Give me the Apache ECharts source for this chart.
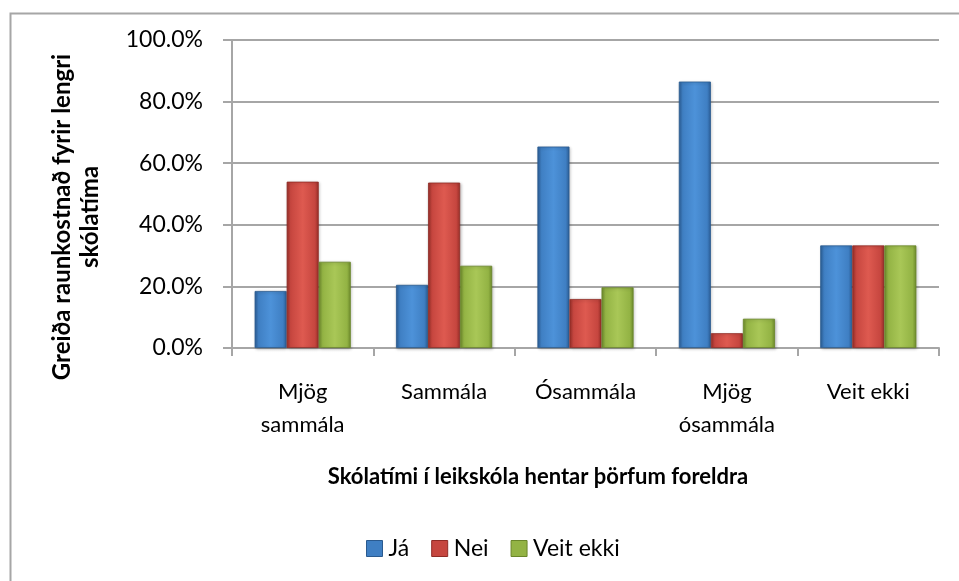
<!DOCTYPE html>
<html>
<head>
<meta charset="utf-8">
<script src="https://cdn.jsdelivr.net/npm/echarts@6/dist/echarts.min.js"></script>
<style>
  html, body { margin: 0; padding: 0; background: #fff; }
  #chart { width: 959px; height: 581px; }
</style>
</head>
<body>
<div id="chart"></div>
<script>
// Answer categories (x axis)
const categories = ['Mjög\nsammála', 'Sammála', 'Ósammála', 'Mjög\nósammála', 'Veit ekki'];
// Share of answers per category, in percent
const jaValues = [18.5, 20.5, 65.4, 86.5, 33.3];
const neiValues = [54.0, 53.7, 15.9, 4.8, 33.3];
const veitEkkiValues = [28.0, 26.7, 19.7, 9.5, 33.3];
const seriesNames = ['Já', 'Nei', 'Veit ekki'];
// Value axis ticks
const yTicks = [0, 20, 40, 60, 80, 100];

const FONT = 'Lato, "Open Sans", sans-serif';

function bevel(dark, mid, light) {
  return new echarts.graphic.LinearGradient(0, 0, 1, 0, [
    { offset: 0, color: dark },
    { offset: 0.12, color: mid },
    { offset: 0.5, color: light },
    { offset: 0.88, color: mid },
    { offset: 1, color: dark }
  ]);
}

const palette = [
  { dark: '#2c5f98', mid: '#3f7fc3', light: '#4d92d9', border: '#2a5a8f' },
  { dark: '#9a2f29', mid: '#c6463f', light: '#de5a50', border: '#8f2b25' },
  { dark: '#6f8c2c', mid: '#93b344', light: '#a9c757', border: '#6a862a' }
];

const dataSets = [jaValues, neiValues, veitEkkiValues];

const chart = echarts.init(document.getElementById('chart'), null, { renderer: 'canvas' });

chart.setOption({
  animation: false,
  backgroundColor: '#ffffff',
  textStyle: { fontFamily: FONT },
  grid: { left: 232, right: 20, top: 40, bottom: 233, containLabel: false },
  legend: {
    data: seriesNames.map((n, i) => ({
      name: n,
      itemStyle: { color: palette[i].mid, borderColor: palette[i].border, borderWidth: 1 }
    })),
    left: 366,
    top: 537,
    padding: 0,
    itemWidth: 16,
    itemHeight: 16,
    itemGap: 22,
    icon: 'rect',
    textStyle: { fontFamily: FONT, fontSize: 23, color: '#000', padding: [0, 0, 0, 1] }
  },
  xAxis: {
    type: 'category',
    data: categories,
    axisLine: { show: true, lineStyle: { color: '#a6a6a6', width: 2 } },
    axisTick: { show: true, length: 8, lineStyle: { color: '#a6a6a6', width: 2 } },
    axisLabel: {
      color: '#000', fontFamily: FONT, fontSize: 22, lineHeight: 33, margin: 27,
      interval: 0
    }
  },
  yAxis: {
    type: 'value',
    min: yTicks[0],
    max: yTicks[yTicks.length - 1],
    interval: yTicks[1] - yTicks[0],
    axisLine: { show: true, lineStyle: { color: '#a6a6a6', width: 2 } },
    axisTick: { show: true, length: 9, lineStyle: { color: '#a6a6a6', width: 2 } },
    axisLabel: {
      color: '#000', fontFamily: FONT, fontSize: 23, margin: 29,
      formatter: v => v.toFixed(1) + '%'
    },
    splitLine: { show: true, lineStyle: { color: '#a6a6a6', width: 2 } }
  },
  series: dataSets.map((vals, i) => ({
    name: seriesNames[i],
    type: 'bar',
    data: vals,
    barGap: '0%',
    barCategoryGap: '32%',
    itemStyle: {
      color: bevel(palette[i].dark, palette[i].mid, palette[i].light),
      borderColor: palette[i].border,
      borderWidth: 0.8,
      shadowColor: 'rgba(0,0,0,0.25)',
      shadowBlur: 3,
      shadowOffsetX: 1,
      shadowOffsetY: 1
    }
  })),
  graphic: [
    {
      type: 'rect',
      left: 8, top: 11,
      shape: { width: 1000, height: 700 },
      style: { fill: 'none', stroke: '#a6a6a6', lineWidth: 2 },
      silent: true,
      z: -10
    },
    {
      type: 'text',
      x: 76, y: 217,
      rotation: Math.PI / 2,
      style: {
        text: 'Greiða raunkostnað fyrir lengri\nskólatíma',
        font: 'bold 24px ' + FONT,
        fill: '#000',
        align: 'center',
        verticalAlign: 'middle',
        lineHeight: 28
      }
    },
    {
      type: 'text',
      x: 538, y: 477,
      style: {
        text: 'Skólatími í leikskóla hentar þörfum foreldra',
        font: 'bold 22px ' + FONT,
        fill: '#000',
        align: 'center',
        verticalAlign: 'middle'
      }
    }
  ]
});
</script>
</body>
</html>
